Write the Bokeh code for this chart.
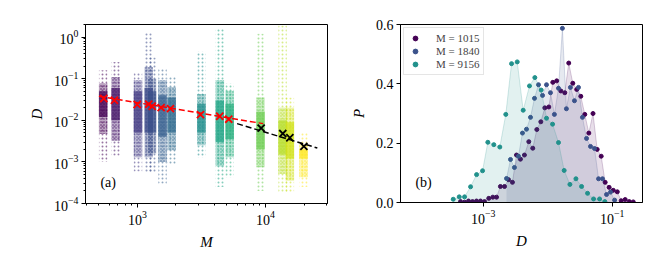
import math
from bokeh.plotting import figure
from bokeh.layouts import row
from bokeh.models import (FixedTicker, LogTickFormatter, Label, Legend,
                          LegendItem, Range1d, PrintfTickFormatter)
from bokeh.palettes import Viridis256
from bokeh.embed import file_html
from bokeh.resources import INLINE

# ---------------- panel (a) data ----------------
cluster_M = [540, 675, 1010, 1225, 1300, 1570, 1850, 3160, 4400, 5250, 9150, 13600, 15500, 19800]
cluster_D_min = [1.0e-3, 1.4e-3, 5.9e-4, 5.6e-4, 5.6e-4, 3.0e-4, 8.9e-4, 1.3e-3, 2.5e-4, 4.3e-4, 2.0e-4, 1.9e-4, 1.9e-4, 2.5e-4]
cluster_D_lo = [4.7e-3, 3.2e-3, 1.3e-3, 1.3e-3, 1.6e-3, 1.0e-3, 1.9e-3, 2.5e-3, 7.9e-4, 1.3e-3, 7.4e-4, 5.1e-4, 3.5e-4, 4.3e-4]
cluster_D_q1 = [1.2e-2, 1.0e-2, 5.0e-3, 5.0e-3, 5.0e-3, 4.0e-3, 5.0e-3, 5.0e-3, 3.0e-3, 3.5e-3, 2.0e-3, 1.5e-3, 1.2e-3, 1.2e-3]
cluster_D_q3 = [5.0e-2, 6.0e-2, 5.0e-2, 6.0e-2, 5.0e-2, 4.0e-2, 3.5e-2, 2.5e-2, 3.0e-2, 2.5e-2, 1.6e-2, 1.0e-2, 9.0e-3, 2.0e-3]
cluster_D_hi = [0.076, 0.11, 0.091, 0.19, 0.10, 0.091, 0.063, 0.043, 0.091, 0.051, 0.035, 0.020, 0.020, 2.7e-3]
cluster_D_max = [0.16, 0.25, 0.145, 1.3, 0.32, 0.17, 0.11, 0.44, 1.6, 0.076, 1.2, 1.9, 0.035, 5.1e-3]

red_M = [546, 661, 995, 1225, 1303, 1531, 1810, 3105, 4395, 5165]
red_D = [0.0333, 0.0303, 0.0239, 0.0243, 0.0217, 0.0202, 0.0191, 0.0137, 0.0125, 0.0106]
black_M = [9250, 13650, 15500, 19950]
black_D = [0.0065, 0.0048, 0.0038, 0.00236]
red_fit_M = [500, 9600]
red_fit_D = [0.0378, 0.0083]
black_fit_M = [6000, 25400]
black_fit_D = [0.0083, 0.00215]

# ---------------- panel (b) data ----------------
D_1015 = [4.45e-4, 5.13e-4, 5.92e-4, 6.83e-4, 7.87e-4, 9.08e-4, 1.047e-3, 1.22e-3, 1.41e-3, 1.61e-3,
          1.85e-3, 2.14e-3, 2.47e-3, 2.84e-3, 3.28e-3, 3.78e-3, 4.36e-3, 5.09e-3, 5.87e-3, 6.78e-3,
          7.82e-3, 9.02e-3, 1.04e-2, 1.20e-2, 1.38e-2, 1.60e-2, 1.84e-2, 2.12e-2, 2.45e-2, 2.82e-2,
          3.26e-2, 3.76e-2, 4.34e-2, 5.04e-2, 5.85e-2, 6.75e-2, 7.78e-2, 8.97e-2, 1.04e-1, 1.20e-1,
          1.38e-1, 1.59e-1, 1.84e-1, 2.12e-1]
P_1015 = [0.003, 0.001, 0.005, 0.003, 0.005, 0.005, 0.003, 0.014, 0.018, 0.018,
          0.054, 0.054, 0.077, 0.068, 0.160, 0.146, 0.160, 0.205, 0.183, 0.246,
          0.272, 0.319, 0.322, 0.405, 0.410, 0.376, 0.370, 0.470, 0.402, 0.381,
          0.358, 0.297, 0.234, 0.300, 0.179, 0.156, 0.068, 0.051, 0.041, 0.036,
          0.006, 0.010, 0.003, 0.002]
D_1840 = [2.30e-3, 2.65e-3, 3.05e-3, 3.52e-3, 4.06e-3, 4.69e-3, 5.41e-3, 6.24e-3, 7.20e-3, 8.31e-3,
          9.58e-3, 1.104e-2, 1.27e-2, 1.47e-2, 1.69e-2, 1.95e-2, 2.25e-2, 2.60e-2, 3.00e-2, 3.46e-2,
          4.00e-2, 4.61e-2, 5.32e-2, 6.14e-2, 7.08e-2, 8.17e-2, 9.42e-2, 1.09e-1]
P_1840 = [0.081, 0.145, 0.118, 0.156, 0.234, 0.247, 0.287, 0.351, 0.397, 0.361,
          0.397, 0.370, 0.297, 0.385, 0.587, 0.316, 0.388, 0.343, 0.388, 0.287,
          0.216, 0.189, 0.182, 0.080, 0.080, 0.027, 0.035, 0.008]
D_9156 = [3.43e-4, 4.25e-4, 5.14e-4, 6.37e-4, 7.89e-4, 9.77e-4, 1.18e-3, 1.46e-3, 1.81e-3, 2.24e-3,
          2.75e-3, 3.37e-3, 4.17e-3, 5.22e-3, 6.32e-3, 7.93e-3, 9.59e-3, 1.19e-2, 1.47e-2, 1.80e-2,
          2.21e-2, 2.74e-2, 3.35e-2, 4.15e-2, 5.14e-2, 6.37e-2, 7.69e-2]
P_9156 = [0.011, 0.019, 0.019, 0.053, 0.094, 0.107, 0.203, 0.195, 0.187, 0.297,
          0.468, 0.474, 0.311, 0.393, 0.421, 0.379, 0.284, 0.264, 0.202, 0.108,
          0.061, 0.080, 0.054, 0.031, 0.012, 0.012, 0.003]
series_labels = ["M = 1015", "M = 1840", "M = 9156"]
series_colors = ["#440154", "#3b528b", "#21918c"]

FONT = "Liberation Serif"


def style(p):
    p.toolbar_location = None
    p.grid.visible = False
    p.outline_line_color = "black"
    p.outline_line_width = 1
    p.background_fill_color = "white"
    p.border_fill_color = "white"
    for ax in (p.xaxis[0], p.yaxis[0]):
        ax.axis_line_color = "black"
        ax.major_tick_in = 0
        ax.major_tick_out = 4
        ax.minor_tick_in = 0
        ax.minor_tick_out = 2
        ax.major_tick_line_color = "black"
        ax.minor_tick_line_color = "black"
        ax.major_label_text_font = FONT
        ax.major_label_text_font_size = "14px"
        ax.major_label_text_color = "black"
        ax.axis_label_text_font = FONT
        ax.axis_label_text_font_size = "15px"
        ax.axis_label_text_font_style = "italic"
        ax.axis_label_text_color = "black"
        ax.major_label_standoff = 3
        ax.axis_label_standoff = 6


# ---------------- figure (a) ----------------
pa = figure(x_axis_type="log", y_axis_type="log", output_backend="svg",
            toolbar_location=None, frame_width=242, frame_height=179,
            min_border_left=85, min_border_right=3, min_border_top=24, min_border_bottom=40,
            x_range=Range1d(393, 30500), y_range=Range1d(1e-4, 2.0))
style(pa)
pa.xaxis.axis_label = "M"
pa.yaxis.axis_label = "D"
pa.xaxis.ticker = FixedTicker(
    ticks=[1e3, 1e4],
    minor_ticks=[400, 500, 600, 700, 800, 900, 2000, 3000, 4000, 5000, 6000, 7000, 8000, 9000, 20000, 30000])
ymin = []
for k in range(-4, 1):
    for j in range(2, 10):
        v = j * 10.0 ** k
        if v <= 2.0:
            ymin.append(v)
pa.yaxis.ticker = FixedTicker(ticks=[1e-4, 1e-3, 1e-2, 1e-1, 1e0], minor_ticks=ymin)
pa.xaxis.formatter = LogTickFormatter()
pa.yaxis.formatter = LogTickFormatter()

lmin, lmax = math.log10(min(cluster_M)), math.log10(max(cluster_M))
colors = [Viridis256[int(round((math.log10(m) - lmin) / (lmax - lmin) * 255))] for m in cluster_M]
half = 10 ** 0.033
left = [m / half for m in cluster_M]
right = [m * half for m in cluster_M]
pa.quad(left=left, right=right, bottom=cluster_D_min, top=cluster_D_max,
        fill_alpha=0.0, line_color=None,
        hatch_pattern="dot", hatch_color=colors, hatch_alpha=0.55, hatch_scale=4, hatch_weight=1.5)
pa.quad(left=left, right=right, bottom=cluster_D_lo, top=cluster_D_hi,
        fill_color=colors, fill_alpha=0.35, line_color=None,
        hatch_pattern="dot", hatch_color=colors, hatch_alpha=0.8, hatch_scale=3, hatch_weight=1.5)
pa.quad(left=left, right=right, bottom=cluster_D_q1, top=cluster_D_q3,
        fill_color=colors, fill_alpha=0.75, line_color=None)

pa.line(red_fit_M, red_fit_D, line_color="red", line_dash="6 3", line_width=1.5)
pa.line(black_fit_M, black_fit_D, line_color="black", line_dash="6 3", line_width=1.5)
pa.scatter(red_M, red_D, marker="x", size=10, line_color="red", line_width=1.8)
pa.scatter(black_M, black_D, marker="x", size=10, line_color="black", line_width=1.8)

pa.add_layout(Label(x=514, y=3.2e-4, text="(a)", text_baseline="middle",
                    text_font=FONT, text_font_size="14px", text_color="black"))

# ---------------- figure (b) ----------------
pb = figure(x_axis_type="log", output_backend="svg", toolbar_location=None,
            frame_width=242, frame_height=178,
            min_border_left=70, min_border_right=6, min_border_top=24, min_border_bottom=40,
            x_range=Range1d(5.22e-5, 0.295), y_range=Range1d(0, 0.6))
style(pb)
pb.xaxis.axis_label = "D"
pb.yaxis.axis_label = "P"
pb.xaxis.ticker = FixedTicker(ticks=[1e-3, 1e-1], minor_ticks=[])
pb.xaxis.formatter = LogTickFormatter()
pb.yaxis.ticker = FixedTicker(ticks=[0.0, 0.2, 0.4, 0.6], minor_ticks=[])
pb.yaxis.formatter = PrintfTickFormatter(format="%.1f")

items = []
for D, P, lab, col in zip([D_1015, D_1840, D_9156], [P_1015, P_1840, P_9156],
                          series_labels, series_colors):
    pb.varea(x=D, y1=[0] * len(D), y2=P, fill_color=col, fill_alpha=0.13)
    pb.line(D, P, line_color=col, line_alpha=0.2, line_width=1)
    r = pb.scatter(D, P, size=4, fill_color=col, line_color=col)
    items.append(LegendItem(label=lab, renderers=[r]))

leg = Legend(items=items, location="top_left", label_text_font=FONT,
             label_text_font_size="11px", glyph_width=14, glyph_height=12,
             label_standoff=14, spacing=1, padding=4, margin=3,
             border_line_color="#cccccc", border_line_width=1,
             background_fill_alpha=0.85, label_height=12)
pb.add_layout(leg)
pb.add_layout(Label(x=8.9e-5, y=0.067, text="(b)", text_baseline="middle",
                    text_font=FONT, text_font_size="14px", text_color="black"))

layout = row(pa, pb)
open("out.html", "w").write(file_html(layout, INLINE))
